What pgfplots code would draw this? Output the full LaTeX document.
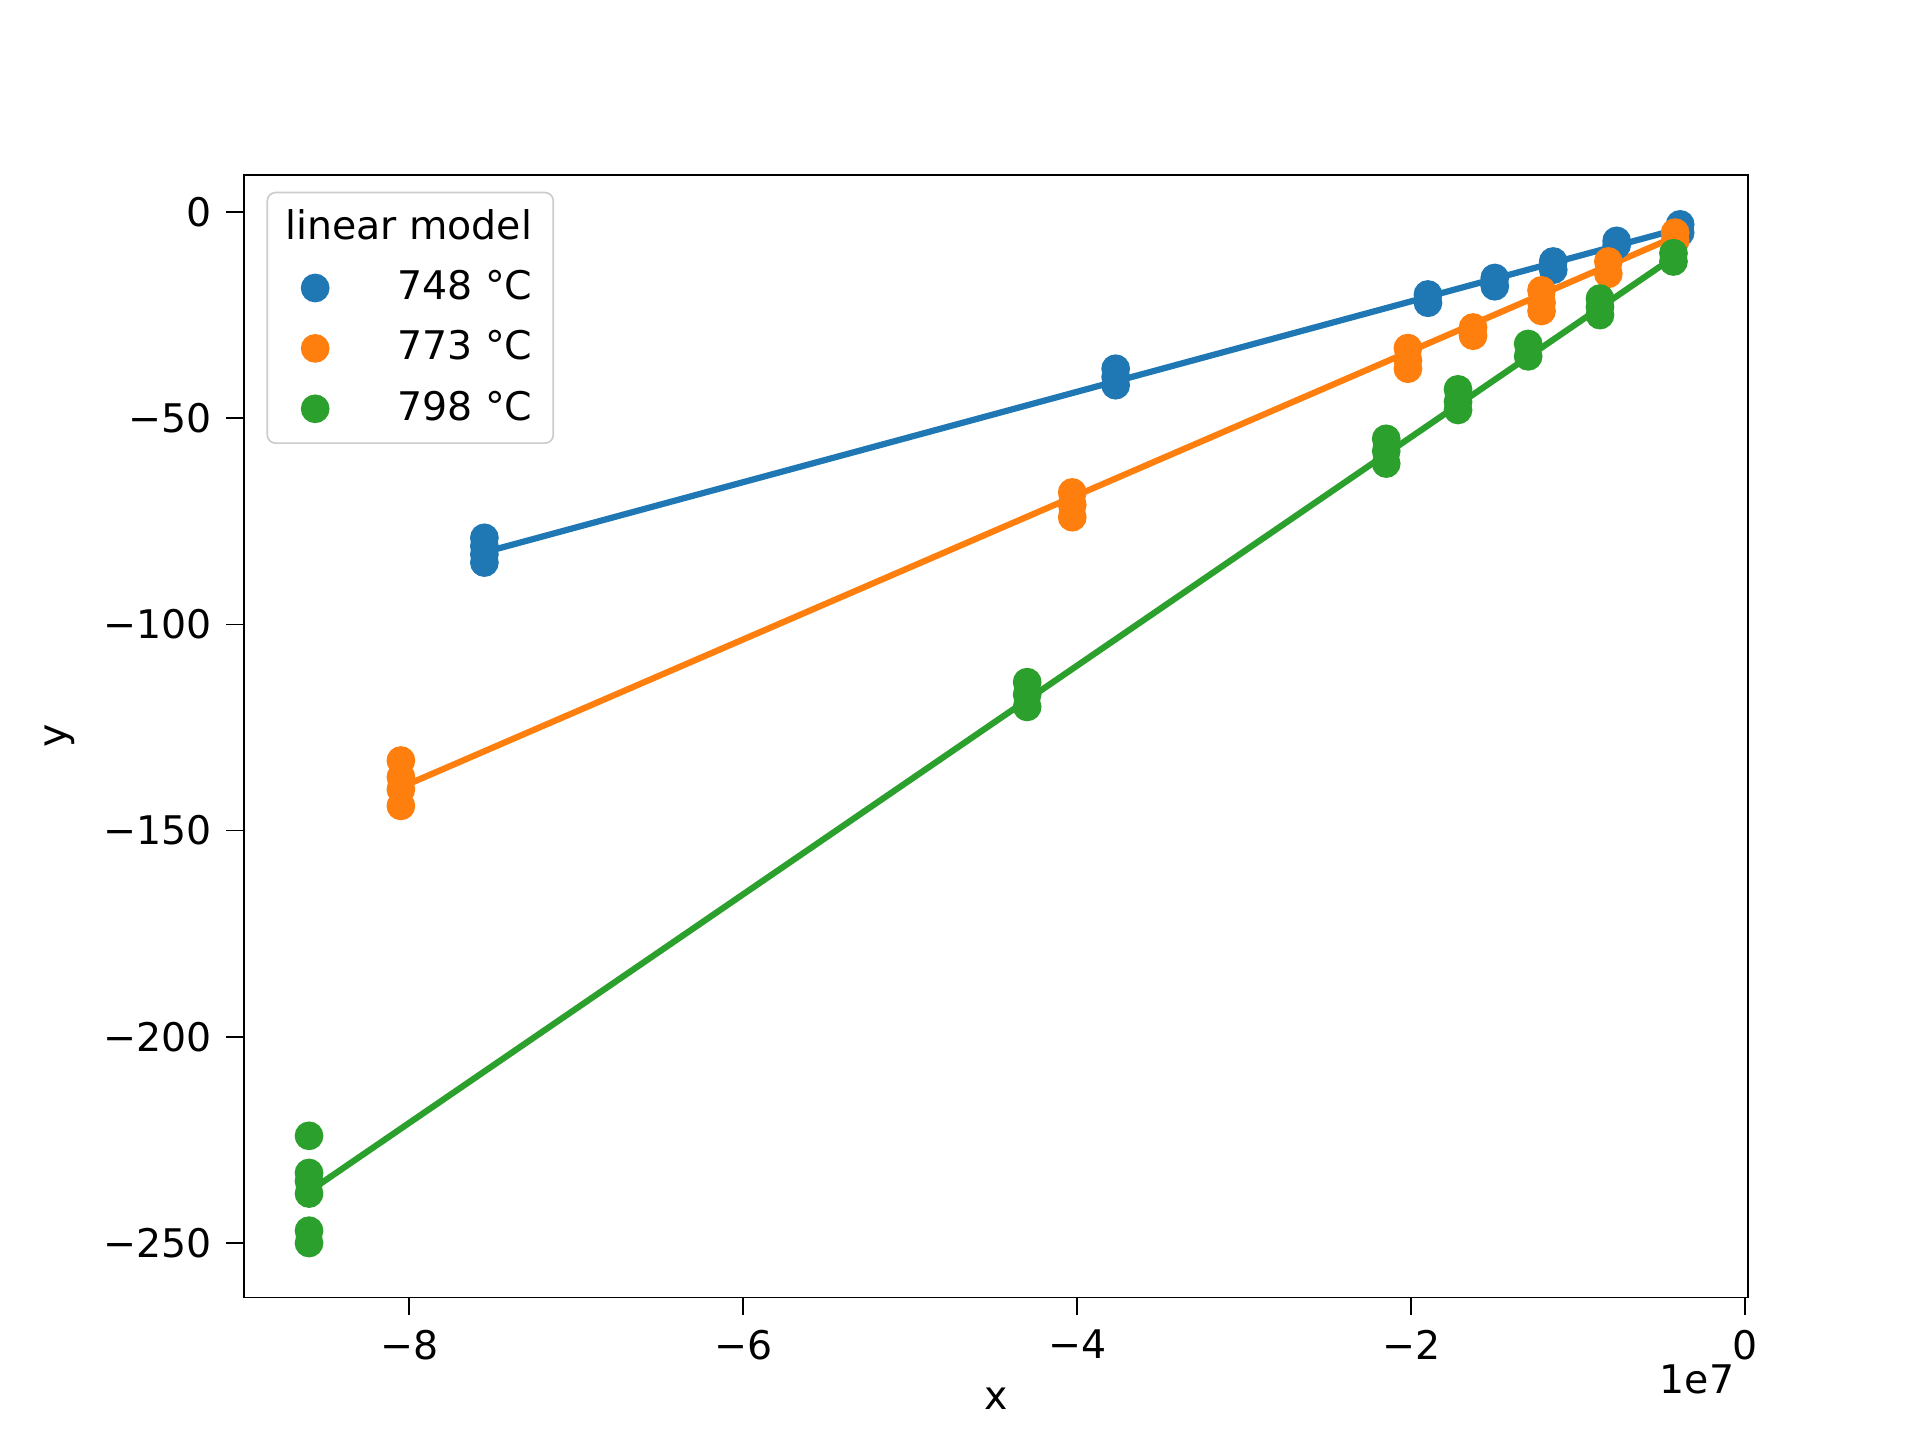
\documentclass[border=0pt]{standalone}
\usepackage{pgfplots}
\pgfplotsset{compat=1.18}
\usepackage{fontspec}
\setmainfont{DejaVu Sans}
\definecolor{c1}{HTML}{1F77B4}
\definecolor{c2}{HTML}{FF7F0E}
\definecolor{c3}{HTML}{2CA02C}
\begin{document}
\begin{tikzpicture}
\path[use as bounding box] (0,0) rectangle (6.4in,4.8in);
\begin{axis}[at={(0.813in,0.475in)},anchor=south west,
 width=5.013in,height=3.742in,scale only axis,
 xmin=-8.99,xmax=0.015,ymin=-263.2,ymax=9,
 xtick={-8,-6,-4,-2,0},ytick={-250,-200,-150,-100,-50,0},
 xticklabels={−8,−6,−4,−2,0},yticklabels={−250,−200,−150,−100,−50,0},
 tick align=outside,tick style={black,thin},
 xtick pos=bottom,ytick pos=left,
 tick label style={font=\fontsize{9.5}{11}\selectfont},
 label style={font=\fontsize{9.5}{11}\selectfont},
 xlabel={x},ylabel={y},
 legend style={font=\fontsize{9.5}{11}\selectfont,draw=black!20,rounded corners=2pt,at={(0.015,0.985)},anchor=north west,row sep=2pt,
   legend image code/.code={\draw[#1,mark=*,mark size=2.7pt] plot coordinates {(0.3cm,0cm)};\path (0.9cm,0);}},
 legend cell align={left},
 every axis plot/.append style={line width=1.5pt},
]
\addlegendimage{empty legend}\addlegendentry{\hspace{-0.95cm}linear model}
\addplot[only marks,mark=*,mark size=2.7pt,c1] coordinates {
(-7.55,-79)(-7.55,-81)(-7.55,-83)(-7.55,-85)(-3.77,-38)(-3.77,-40)(-3.77,-42)
(-1.9,-20)(-1.9,-22)(-1.5,-16)(-1.5,-18)(-1.15,-12)(-1.15,-14)(-0.77,-7)(-0.77,-8)(-0.39,-3)(-0.39,-5)};
\addlegendentry{748 °C}
\addplot[only marks,mark=*,mark size=2.7pt,c2] coordinates {
(-8.05,-133)(-8.05,-137)(-8.05,-140)(-8.05,-144)(-4.03,-68)(-4.03,-71)(-4.03,-74)
(-2.02,-33)(-2.02,-36)(-2.02,-38)(-1.63,-28)(-1.63,-30)(-1.22,-19)(-1.22,-22)(-1.22,-24)
(-0.82,-12)(-0.82,-15)(-0.42,-5)(-0.42,-7)};
\addlegendentry{773 °C}
\addplot[only marks,mark=*,mark size=2.7pt,c3] coordinates {
(-8.6,-224)(-8.6,-233)(-8.6,-235)(-8.6,-238)(-8.6,-247)(-8.6,-250)
(-4.3,-114)(-4.3,-117)(-4.3,-120)(-2.15,-55)(-2.15,-58)(-2.15,-61)
(-1.72,-43)(-1.72,-46)(-1.72,-48)(-1.3,-32)(-1.3,-35)(-0.87,-21)(-0.87,-23)(-0.87,-25)
(-0.43,-10)(-0.43,-12)};
\addlegendentry{798 °C}
\addplot[c1,forget plot] coordinates {(-7.55,-82.5)(-0.39,-4)};
\addplot[c2,forget plot] coordinates {(-8.05,-139.5)(-0.42,-6)};
\addplot[c3,forget plot] coordinates {(-8.6,-237.5)(-0.43,-11)};
\end{axis}
\node[anchor=north east,font=\fontsize{9.5}{11}\selectfont] at (5.83in,0.3in) {1e7};
\end{tikzpicture}
\end{document}
